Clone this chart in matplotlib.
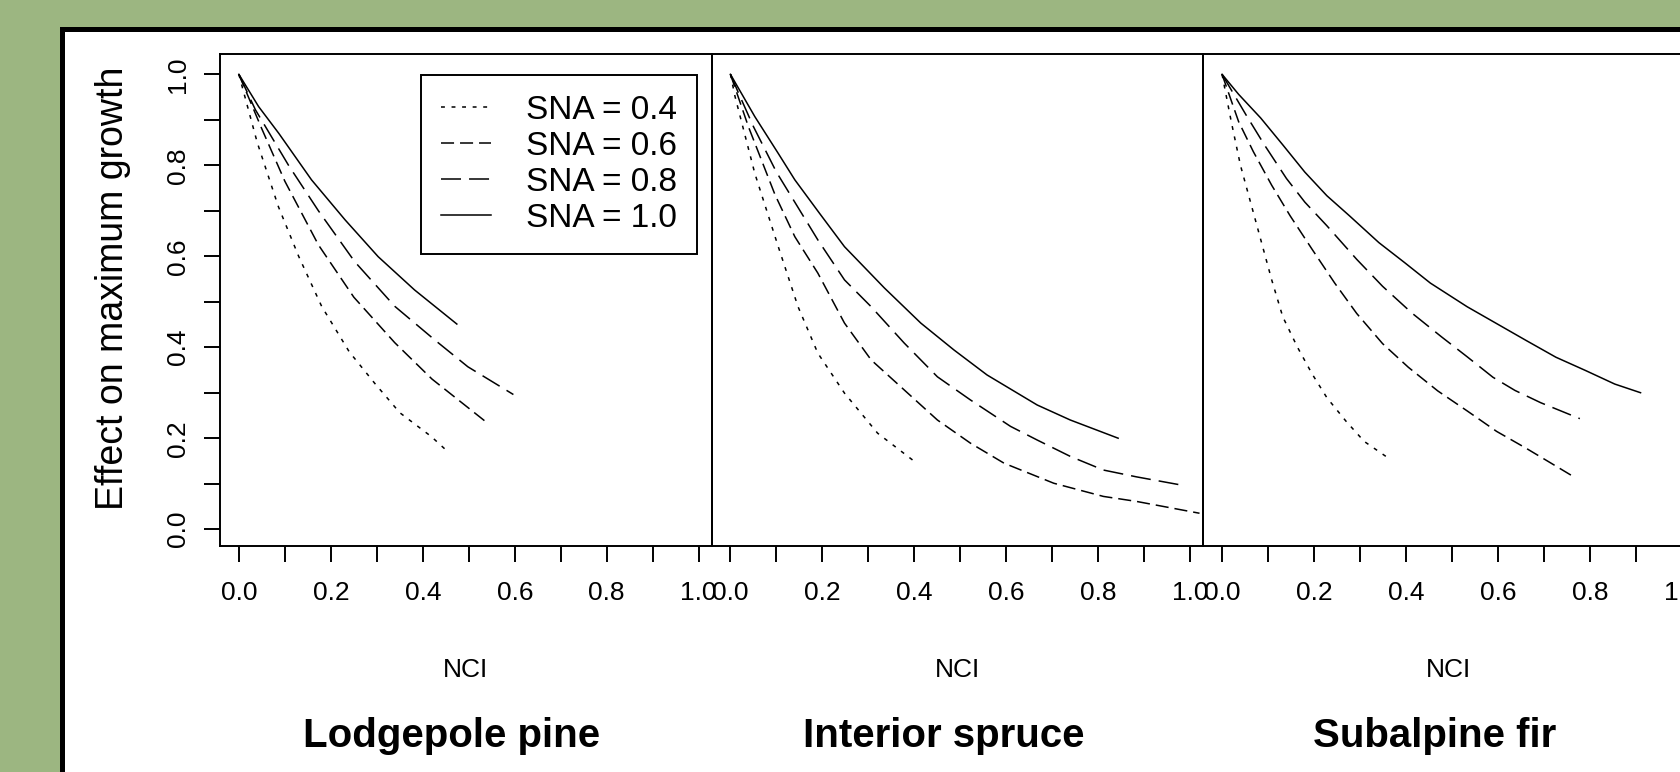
import matplotlib
matplotlib.use("Agg")
import matplotlib.pyplot as plt
from matplotlib.patches import Rectangle

plt.rcParams["font.family"] = ["Liberation Sans", "DejaVu Sans"]
plt.rcParams["lines.scale_dashes"] = False

W, H, DPI = 1681, 772, 100

SPECIES = ["Lodgepole pine", "Interior spruce", "Subalpine fir"]
SNA_LABELS = ["SNA = 0.4", "SNA = 0.6", "SNA = 0.8", "SNA = 1.0"]

# Lodgepole pine
pl_nci_04 = [0, 0.04, 0.086, 0.13, 0.18, 0.24, 0.296, 0.35, 0.418, 0.457]
pl_eff_04 = [1.0, 0.85, 0.709, 0.60, 0.49, 0.39, 0.32, 0.256, 0.204, 0.168]
pl_nci_06 = [0, 0.05, 0.10, 0.173, 0.25, 0.339, 0.42, 0.536]
pl_eff_06 = [1.0, 0.88, 0.765, 0.625, 0.51, 0.41, 0.33, 0.237]
pl_nci_08 = [0, 0.036, 0.108, 0.173, 0.252, 0.339, 0.426, 0.498, 0.597]
pl_eff_08 = [1.0, 0.922, 0.80, 0.70, 0.588, 0.49, 0.416, 0.357, 0.296]
pl_nci_10 = [0, 0.043, 0.087, 0.158, 0.231, 0.303, 0.382, 0.474]
pl_eff_10 = [1.0, 0.929, 0.870, 0.768, 0.680, 0.599, 0.526, 0.451]

# Interior spruce
is_nci_04 = [0, 0.010, 0.053, 0.104, 0.147, 0.190, 0.248, 0.320, 0.400]
is_eff_04 = [1.0, 0.951, 0.782, 0.621, 0.489, 0.387, 0.299, 0.211, 0.149]
is_nci_06 = [0, 0.039, 0.097, 0.140, 0.190, 0.248, 0.306, 0.378, 0.450, 0.522,
             0.595, 0.703, 0.811, 0.883, 1.02]
is_eff_06 = [1.0, 0.885, 0.735, 0.643, 0.563, 0.453, 0.372, 0.306, 0.240, 0.189,
             0.145, 0.101, 0.072, 0.061, 0.035]
is_nci_08 = [0, 0.017, 0.05, 0.10, 0.19, 0.248, 0.306, 0.378, 0.450, 0.522,
             0.609, 0.667, 0.739, 0.811, 0.883, 0.975]
is_eff_08 = [1.0, 0.96, 0.885, 0.785, 0.636, 0.548, 0.489, 0.409, 0.335, 0.284,
             0.226, 0.196, 0.160, 0.130, 0.115, 0.098]
is_nci_10 = [0, 0.053, 0.104, 0.140, 0.194, 0.248, 0.335, 0.414, 0.486, 0.558,
             0.667, 0.739, 0.843]
is_eff_10 = [1.0, 0.907, 0.826, 0.768, 0.694, 0.621, 0.530, 0.453, 0.394, 0.339,
             0.273, 0.240, 0.200]

# Subalpine fir
sf_nci_04 = [0, 0.020, 0.040, 0.060, 0.084, 0.108, 0.132, 0.164, 0.196, 0.228,
             0.269, 0.309, 0.362]
sf_eff_04 = [1.0, 0.896, 0.800, 0.726, 0.637, 0.548, 0.467, 0.400, 0.341, 0.289,
             0.238, 0.193, 0.156]
sf_nci_06 = [0, 0.036, 0.068, 0.108, 0.148, 0.196, 0.245, 0.293, 0.349, 0.405,
             0.469, 0.533, 0.597, 0.661, 0.709, 0.765]
sf_eff_06 = [1.0, 0.896, 0.830, 0.756, 0.689, 0.615, 0.541, 0.474, 0.408, 0.356,
             0.304, 0.260, 0.215, 0.178, 0.149, 0.115]
sf_nci_08 = [0, 0.052, 0.092, 0.140, 0.180, 0.228, 0.293, 0.349, 0.413, 0.477,
             0.533, 0.589, 0.637, 0.693, 0.778]
sf_eff_08 = [1.0, 0.911, 0.845, 0.771, 0.719, 0.667, 0.593, 0.534, 0.475, 0.423,
             0.379, 0.334, 0.305, 0.278, 0.243]
sf_nci_10 = [0, 0.036, 0.084, 0.132, 0.180, 0.228, 0.277, 0.341, 0.397, 0.453,
             0.533, 0.597, 0.661, 0.726, 0.790, 0.854, 0.910]
sf_eff_10 = [1.0, 0.956, 0.904, 0.845, 0.785, 0.733, 0.689, 0.630, 0.586, 0.541,
             0.489, 0.452, 0.415, 0.378, 0.349, 0.319, 0.300]

PANELS = [
    [(pl_nci_04, pl_eff_04), (pl_nci_06, pl_eff_06), (pl_nci_08, pl_eff_08), (pl_nci_10, pl_eff_10)],
    [(is_nci_04, is_eff_04), (is_nci_06, is_eff_06), (is_nci_08, is_eff_08), (is_nci_10, is_eff_10)],
    [(sf_nci_04, sf_eff_04), (sf_nci_06, sf_eff_06), (sf_nci_08, sf_eff_08), (sf_nci_10, sf_eff_10)],
]
# R-like lty: dotted, dashed, longdash, solid
LINESTYLES = [(0, (2.8, 4.8)), (0, (9.4, 4.3)), (0, (14.4, 5.8)), "-"]

TICKS = [i / 10 for i in range(11)]
TICK_LABELS = ["0.0", "", "0.2", "", "0.4", "", "0.6", "", "0.8", "", "1.0"]

fig = plt.figure(figsize=(W / DPI, H / DPI), dpi=DPI)
fig.patch.set_facecolor("#9cb681")

# white card with thick black border (runs off the right/bottom edge)
card = Rectangle((62.5 / W, -0.2), 2.0, (H - 29.0) / H + 0.2,
                 transform=fig.transFigure, facecolor="white",
                 edgecolor="black", linewidth=3.6, zorder=-10)
fig.patches.append(card)

px = 1 / W
py = 1 / H
PANEL_W = 491.6
AX_TOP, AX_BOT = 54.3, 546.0
axes = []
for i in range(3):
    left = 220.0 + i * PANEL_W
    ax = fig.add_axes([left * px, 1 - AX_BOT * py, PANEL_W * px, (AX_BOT - AX_TOP) * py])
    ax.set_zorder(1)
    ax.set_facecolor("none")
    for (x, y), ls in zip(PANELS[i], LINESTYLES):
        ax.plot(x, y, color="black", lw=1.1, linestyle=ls)
    ax.set_xlim(-0.041, 1.028)
    ax.set_ylim(-0.037, 1.044)
    ax.set_xticks(TICKS)
    ax.set_xticklabels(TICK_LABELS, fontsize=19)
    ax.set_yticks(TICKS)
    ax.tick_params(axis="both", direction="out", length=11.5, width=1.4, color="black")
    ax.tick_params(axis="x", pad=14)
    if i == 0:
        ax.set_yticklabels(TICK_LABELS, fontsize=19, rotation=90, va="center")
        ax.tick_params(axis="y", pad=10)
    else:
        ax.tick_params(axis="y", left=False, labelleft=False)
    for sp in ax.spines.values():
        sp.set_linewidth(1.4)
    axes.append(ax)

    cx = (left + 0.5 * PANEL_W) * px
    fig.text(cx, 1 - 670 * py, "NCI", fontsize=19, ha="center", va="center")
    fig.text(cx - 14 * px, 1 - 736 * py, SPECIES[i], fontsize=29, fontweight="bold",
             ha="center", va="center")

fig.text(113 * px, 1 - 288 * py, "Effect on maximum growth", fontsize=27,
         rotation=90, ha="center", va="center")

leg = axes[0].legend(SNA_LABELS, loc="upper left",
                     bbox_to_anchor=(421 * px, 1 - 75 * py), bbox_transform=fig.transFigure,
                     fontsize=24, frameon=True, fancybox=False, framealpha=1,
                     edgecolor="black", borderaxespad=0, borderpad=0.6,
                     handlelength=1.5, handletextpad=1.06, labelspacing=0.15)
leg.get_frame().set_linewidth(1.4)

fig.savefig("out.png", dpi=DPI, facecolor=fig.get_facecolor())
